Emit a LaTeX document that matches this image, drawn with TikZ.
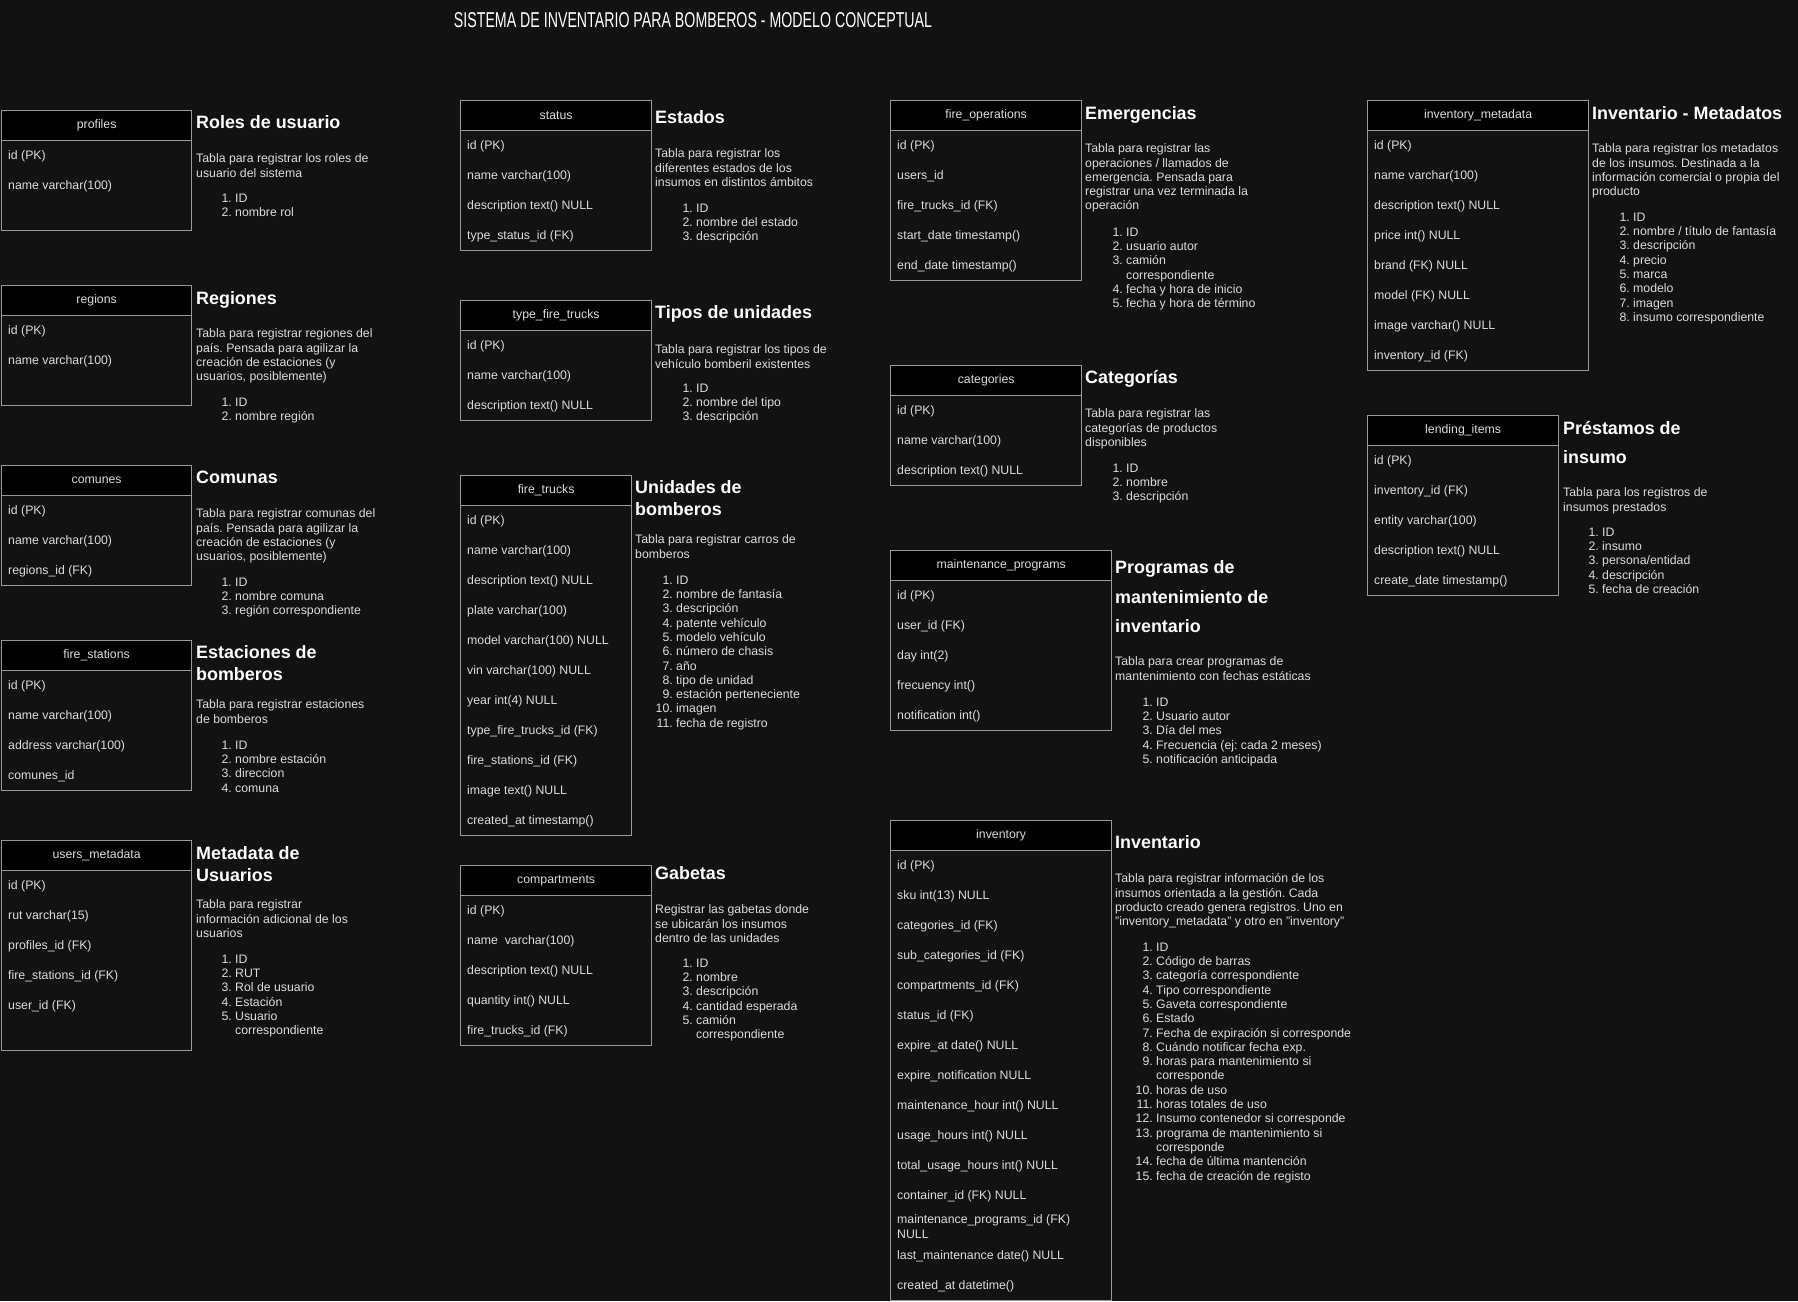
\documentclass[tikz,border=0pt]{standalone}
\usepackage{fontspec}
\usepackage{graphicx}
\usepackage{tikz}
\setmainfont{Liberation Sans}
\frenchspacing

\definecolor{bgcol}{HTML}{121212}
\definecolor{linecol}{HTML}{999999}
\definecolor{txtcol}{HTML}{DCDCDC}

\newcommand\tblfont{\fontsize{12.3}{14.3}\selectfont}
\newcommand\ttlfont{\bfseries\fontsize{17.9}{21.5}\selectfont}
\newcommand\itemno[1]{\llap{#1.\ }}

\tikzset{
  tbl/.style={draw=linecol, line width=1.3pt, fill=bgcol, anchor=north west, inner sep=0pt},
  tblhead/.style={draw=linecol, line width=1.3pt, fill=black, anchor=north west, inner sep=0pt,
    minimum height=30pt, text=txtcol, font=\tblfont},
  field/.style={anchor=west, yshift=-1.5pt, inner sep=0pt, text=txtcol, font=\tblfont, align=left},
  % first baseline sits on the given point
  ttl/.style={anchor=north west, yshift=12.9pt, inner sep=0pt, text=white, font=\ttlfont, align=left},
  desc/.style={anchor=north west, yshift=8.9pt, inner sep=0pt, text=txtcol, font=\tblfont, align=left},
}

\begin{document}
\begin{tikzpicture}[x=1pt,y=-1pt]
        \useasboundingbox (0,0) rectangle (1798,1301);
        \fill [bgcol] (0,0) rectangle (1798,1301);

        \node [text=white, font=\fontsize{21.5}{24}\selectfont] (title) at (693,20.5)
          {\scalebox{0.66}[1]{SISTEMA DE INVENTARIO PARA BOMBEROS - MODELO CONCEPTUAL}};

        % first column
        \node [tbl, minimum width=190pt, minimum height=120pt] (profiles) at (1,110) {};
        \node [tblhead, minimum width=190pt] (profiles-head) at (1,110) {profiles};
        \foreach \f [count=\i] in {id (PK), name varchar(100)}
          \node [field] (profiles-\i) at (8,125+30*\i) {\f};
        \node [ttl] (profiles-t) at (196,128.5) {Roles de usuario};
        \node [desc] (profiles-d) at (196,162.5) {Tabla para registrar los roles de\\usuario del sistema};
        \node [desc] (profiles-l) at (235,202.5) {\itemno{1}ID\\\itemno{2}nombre rol};

        \node [tbl, minimum width=190pt, minimum height=120pt] (regions) at (1,285) {};
        \node [tblhead, minimum width=190pt] (regions-head) at (1,285) {regions};
        \foreach \f [count=\i] in {id (PK), name varchar(100)}
          \node [field] (regions-\i) at (8,300+30*\i) {\f};
        \node [ttl] (regions-t) at (196,304.5) {Regiones};
        \node [desc] (regions-d) at (196,337.5) {Tabla para registrar regiones del\\país. Pensada para agilizar la\\creación de estaciones (y\\usuarios, posiblemente)};
        \node [desc] (regions-l) at (235,406.5) {\itemno{1}ID\\\itemno{2}nombre región};

        \node [tbl, minimum width=190pt, minimum height=120pt] (comunes) at (1,465) {};
        \node [tblhead, minimum width=190pt] (comunes-head) at (1,465) {comunes};
        \foreach \f [count=\i] in {id (PK), name varchar(100), regions\_id (FK)}
          \node [field] (comunes-\i) at (8,480+30*\i) {\f};
        \node [ttl] (comunes-t) at (196,483.5) {Comunas};
        \node [desc] (comunes-d) at (196,517.5) {Tabla para registrar comunas del\\país. Pensada para agilizar la\\creación de estaciones (y\\usuarios, posiblemente)};
        \node [desc] (comunes-l) at (235,586.5) {\itemno{1}ID\\\itemno{2}nombre comuna\\\itemno{3}región correspondiente};

        \node [tbl, minimum width=190pt, minimum height=150pt] (stations) at (1,640) {};
        \node [tblhead, minimum width=190pt] (stations-head) at (1,640) {fire\_stations};
        \foreach \f [count=\i] in {id (PK), name varchar(100), address varchar(100), comunes\_id}
          \node [field] (stations-\i) at (8,655+30*\i) {\f};
        \node [ttl] (stations-t) at (196,658.5) {Estaciones de\\bomberos};
        \node [desc] (stations-d) at (196,708.5) {Tabla para registrar estaciones\\de bomberos};
        \node [desc] (stations-l) at (235,749.5) {\itemno{1}ID\\\itemno{2}nombre estación\\\itemno{3}direccion\\\itemno{4}comuna};

        \node [tbl, minimum width=190pt, minimum height=210pt] (usersmeta) at (1,840) {};
        \node [tblhead, minimum width=190pt] (usersmeta-head) at (1,840) {users\_metadata};
        \foreach \f [count=\i] in {id (PK), rut varchar(15), profiles\_id (FK), fire\_stations\_id (FK), user\_id (FK)}
          \node [field] (usersmeta-\i) at (8,855+30*\i) {\f};
        \node [ttl] (usersmeta-t) at (196,859.5) {Metadata de\\Usuarios};
        \node [desc] (usersmeta-d) at (196,908.5) {Tabla para registrar\\información adicional de los\\usuarios};
        \node [desc] (usersmeta-l) at (235,963.5) {\itemno{1}ID\\\itemno{2}RUT\\\itemno{3}Rol de usuario\\\itemno{4}Estación\\\itemno{5}Usuario\\correspondiente};

        % second column
        \node [tbl, minimum width=191pt, minimum height=150pt] (status) at (460,100) {};
        \node [tblhead, minimum width=191pt] (status-head) at (460,100) {status};
        \foreach \f [count=\i] in {id (PK), name varchar(100), description text() NULL, type\_status\_id (FK)}
          \node [field] (status-\i) at (467,115+30*\i) {\f};
        \node [ttl] (status-t) at (655,123.5) {Estados};
        \node [desc] (status-d) at (655,157.5) {Tabla para registrar los\\diferentes estados de los\\insumos en distintos ámbitos};
        \node [desc] (status-l) at (696,212.5) {\itemno{1}ID\\\itemno{2}nombre del estado\\\itemno{3}descripción};

        \node [tbl, minimum width=191pt, minimum height=120pt] (typetrucks) at (460,300) {};
        \node [tblhead, minimum width=191pt] (typetrucks-head) at (460,300) {type\_fire\_trucks};
        \foreach \f [count=\i] in {id (PK), name varchar(100), description text() NULL}
          \node [field] (typetrucks-\i) at (467,315+30*\i) {\f};
        \node [ttl] (typetrucks-t) at (655,318.5) {Tipos de unidades};
        \node [desc] (typetrucks-d) at (655,353.5) {Tabla para registrar los tipos de\\vehículo bomberil existentes};
        \node [desc] (typetrucks-l) at (696,392.5) {\itemno{1}ID\\\itemno{2}nombre del tipo\\\itemno{3}descripción};

        \node [tbl, minimum width=171pt, minimum height=360pt] (trucks) at (460,475) {};
        \node [tblhead, minimum width=171pt] (trucks-head) at (460,475) {fire\_trucks};
        \foreach \f [count=\i] in {id (PK), name varchar(100), description text() NULL, plate varchar(100),
            model varchar(100) NULL, vin varchar(100) NULL, year int(4) NULL, type\_fire\_trucks\_id (FK),
            fire\_stations\_id (FK), image text() NULL, created\_at timestamp()}
          \node [field] (trucks-\i) at (467,490+30*\i) {\f};
        \node [ttl] (trucks-t) at (635,493.5) {Unidades de\\bomberos};
        \node [desc] (trucks-d) at (635,543.5) {Tabla para registrar carros de\\bomberos};
        \node [desc] (trucks-l) at (676,584.5) {\itemno{1}ID\\\itemno{2}nombre de fantasía\\\itemno{3}descripción\\
          \itemno{4}patente vehículo\\\itemno{5}modelo vehículo\\\itemno{6}número de chasis\\\itemno{7}año\\
          \itemno{8}tipo de unidad\\\itemno{9}estación perteneciente\\\itemno{10}imagen\\\itemno{11}fecha de registro};

        \node [tbl, minimum width=191pt, minimum height=180pt] (compartments) at (460,865) {};
        \node [tblhead, minimum width=191pt] (compartments-head) at (460,865) {compartments};
        \foreach \f [count=\i] in {id (PK), name\ \ varchar(100), description text() NULL, quantity int() NULL, fire\_trucks\_id (FK)}
          \node [field] (compartments-\i) at (467,880+30*\i) {\f};
        \node [ttl] (compartments-t) at (655,879.5) {Gabetas};
        \node [desc] (compartments-d) at (655,913.5) {Registrar las gabetas donde\\se ubicarán los insumos\\dentro de las unidades};
        \node [desc] (compartments-l) at (696,967.5) {\itemno{1}ID\\\itemno{2}nombre\\\itemno{3}descripción\\
          \itemno{4}cantidad esperada\\\itemno{5}camión\\correspondiente};

        % third column
        \node [tbl, minimum width=191pt, minimum height=180pt] (operations) at (890,100) {};
        \node [tblhead, minimum width=191pt] (operations-head) at (890,100) {fire\_operations};
        \foreach \f [count=\i] in {id (PK), users\_id, fire\_trucks\_id (FK), start\_date timestamp(), end\_date timestamp()}
          \node [field] (operations-\i) at (897,115+30*\i) {\f};
        \node [ttl] (operations-t) at (1085,119.5) {Emergencias};
        \node [desc] (operations-d) at (1085,152.5) {Tabla para registrar las\\operaciones / llamados de\\emergencia. Pensada para\\registrar una vez terminada la\\operación};
        \node [desc] (operations-l) at (1126,236.5) {\itemno{1}ID\\\itemno{2}usuario autor\\\itemno{3}camión\\correspondiente\\
          \itemno{4}fecha y hora de inicio\\\itemno{5}fecha y hora de término};

        \node [tbl, minimum width=191pt, minimum height=120pt] (categories) at (890,365) {};
        \node [tblhead, minimum width=191pt] (categories-head) at (890,365) {categories};
        \foreach \f [count=\i] in {id (PK), name varchar(100), description text() NULL}
          \node [field] (categories-\i) at (897,380+30*\i) {\f};
        \node [ttl] (categories-t) at (1085,383.5) {Categorías};
        \node [desc] (categories-d) at (1085,417.5) {Tabla para registrar las\\categorías de productos\\disponibles};
        \node [desc] (categories-l) at (1126,472.5) {\itemno{1}ID\\\itemno{2}nombre\\\itemno{3}descripción};

        \node [tbl, minimum width=221pt, minimum height=180pt] (maintenance) at (890,550) {};
        \node [tblhead, minimum width=221pt] (maintenance-head) at (890,550) {maintenance\_programs};
        \foreach \f [count=\i] in {id (PK), user\_id (FK), day int(2), frecuency int(), notification int()}
          \node [field] (maintenance-\i) at (897,565+30*\i) {\f};
        \node [ttl] (maintenance-t) at (1115,573.5) {Programas de\\[8pt]mantenimiento de\\[8pt]inventario};
        \node [desc] (maintenance-d) at (1115,665.5) {Tabla para crear programas de\\mantenimiento con fechas estáticas};
        \node [desc] (maintenance-l) at (1156,706.5) {\itemno{1}ID\\\itemno{2}Usuario autor\\\itemno{3}Día del mes\\
          \itemno{4}Frecuencia (ej: cada 2 meses)\\\itemno{5}notificación anticipada};

        \node [tbl, minimum width=221pt, minimum height=480pt] (inventory) at (890,820) {};
        \node [tblhead, minimum width=221pt] (inventory-head) at (890,820) {inventory};
        \foreach \f [count=\i] in {id (PK), sku int(13) NULL, categories\_id (FK), sub\_categories\_id (FK),
            compartments\_id (FK), status\_id (FK), expire\_at date() NULL, expire\_notification NULL,
            maintenance\_hour int() NULL, usage\_hours int() NULL, total\_usage\_hours int() NULL,
            container\_id (FK) NULL, {maintenance\_programs\_id (FK)\\NULL}, last\_maintenance date() NULL,
            created\_at datetime()}
          \node [field] (inventory-\i) at (897,835+30*\i) {\f};
        \node [ttl] (inventory-t) at (1115,848.5) {Inventario};
        \node [desc] (inventory-d) at (1115,882.5) {Tabla para registrar información de los\\insumos orientada a la gestión. Cada\\producto creado genera registros. Uno en\\"inventory\_metadata" y otro en "inventory"};
        \node [desc] (inventory-l) at (1156,951.5) {\itemno{1}ID\\\itemno{2}Código de barras\\\itemno{3}categoría correspondiente\\
          \itemno{4}Tipo correspondiente\\\itemno{5}Gaveta correspondiente\\\itemno{6}Estado\\
          \itemno{7}Fecha de expiración si corresponde\\\itemno{8}Cuándo notificar fecha exp.\\
          \itemno{9}horas para mantenimiento si\\corresponde\\\itemno{10}horas de uso\\\itemno{11}horas totales de uso\\
          \itemno{12}Insumo contenedor si corresponde\\\itemno{13}programa de mantenimiento si\\corresponde\\
          \itemno{14}fecha de última mantención\\\itemno{15}fecha de creación de registo};

        % fourth column
        \node [tbl, minimum width=221pt, minimum height=270pt] (invmeta) at (1367,100) {};
        \node [tblhead, minimum width=221pt] (invmeta-head) at (1367,100) {inventory\_metadata};
        \foreach \f [count=\i] in {id (PK), name varchar(100), description text() NULL, price int() NULL,
            brand (FK) NULL, model (FK) NULL, image varchar() NULL, inventory\_id (FK)}
          \node [field] (invmeta-\i) at (1374,115+30*\i) {\f};
        \node [ttl] (invmeta-t) at (1592,119.5) {Inventario - Metadatos};
        \node [desc] (invmeta-d) at (1592,152.5) {Tabla para registrar los metadatos\\de los insumos. Destinada a la\\información comercial o propia del\\producto};
        \node [desc] (invmeta-l) at (1633,221.5) {\itemno{1}ID\\\itemno{2}nombre / título de fantasía\\\itemno{3}descripción\\
          \itemno{4}precio\\\itemno{5}marca\\\itemno{6}modelo\\\itemno{7}imagen\\\itemno{8}insumo correspondiente};

        \node [tbl, minimum width=191pt, minimum height=180pt] (lending) at (1367,415) {};
        \node [tblhead, minimum width=191pt] (lending-head) at (1367,415) {lending\_items};
        \foreach \f [count=\i] in {id (PK), inventory\_id (FK), entity varchar(100), description text() NULL, create\_date timestamp()}
          \node [field] (lending-\i) at (1374,430+30*\i) {\f};
        \node [ttl] (lending-t) at (1563,434.5) {Préstamos de\\[7.5pt]insumo};
        \node [desc] (lending-d) at (1563,496.5) {Tabla para los registros de\\insumos prestados};
        \node [desc] (lending-l) at (1602,536.5) {\itemno{1}ID\\\itemno{2}insumo\\\itemno{3}persona/entidad\\
          \itemno{4}descripción\\\itemno{5}fecha de creación};
\end{tikzpicture}
\end{document}
